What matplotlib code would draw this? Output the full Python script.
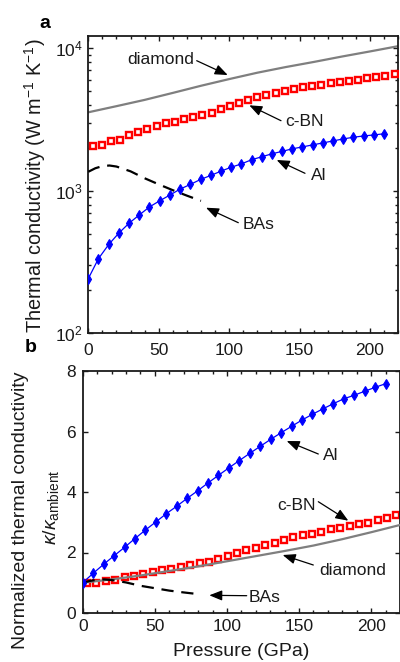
import matplotlib
matplotlib.use("Agg")
import matplotlib.pyplot as plt
from matplotlib.ticker import MultipleLocator, LogLocator, NullFormatter

plt.rcParams['font.family'] = ['Liberation Sans', 'DejaVu Sans']
plt.rcParams['mathtext.fontset'] = 'custom'
plt.rcParams['mathtext.rm'] = 'Liberation Sans'
plt.rcParams['mathtext.it'] = 'Liberation Sans:italic'
plt.rcParams['mathtext.bf'] = 'Liberation Sans:bold'

# ---------------- data ----------------
# diamond (line)
p_diamond = [0, 20, 40, 60, 80, 100, 120, 140, 160, 180, 200, 220]
k_diamond = [3556, 3926, 4345, 4864, 5458, 6080, 6740, 7379, 8017, 8750, 9506, 10350]
n_diamond = [1.00, 1.11, 1.24, 1.39, 1.54, 1.71, 1.88, 2.05, 2.23, 2.44, 2.67, 2.91]

# c-BN (open squares)
p_cbn = [3, 9.5, 16, 22.5, 29, 35.5, 42, 48.5, 55, 61.5, 68, 74.5, 81, 87.5, 94,
         100.5, 107, 113.5, 120, 126.5, 133, 139.5, 146, 152.5, 159, 165.5, 172,
         178.5, 185, 191.5, 198, 204.5, 211, 217.5]
k_cbn = [2060, 2080, 2220, 2290, 2470, 2570, 2720, 2830, 2980, 3050, 3180, 3270,
         3410, 3540, 3730, 3910, 4130, 4360, 4520, 4700, 4850, 4980, 5180, 5310,
         5400, 5550, 5700, 5790, 5890, 6010, 6140, 6280, 6440, 6650]
n_cbn = [0.98, 0.99, 1.06, 1.10, 1.18, 1.23, 1.30, 1.36, 1.43, 1.47, 1.53, 1.58,
         1.64, 1.70, 1.79, 1.88, 1.98, 2.08, 2.16, 2.25, 2.33, 2.41, 2.50, 2.57,
         2.62, 2.69, 2.77, 2.81, 2.87, 2.93, 2.99, 3.06, 3.14, 3.24]

# Al (filled diamonds)
p_al = [0, 7.2, 14.5, 21.7, 29, 36.2, 43.4, 50.7, 57.9, 65.2, 72.4, 79.7, 86.9,
        94.1, 101.4, 108.6, 115.9, 123.1, 130.3, 137.6, 144.8, 152.1, 159.3,
        166.6, 173.8, 181, 188.3, 195.5, 202.8, 210]
k_al = [242, 334, 420, 505, 593, 677, 770, 851, 933, 1028, 1108, 1201, 1281, 1372,
        1463, 1543, 1651, 1732, 1817, 1891, 1970, 2033, 2100, 2168, 2239, 2312,
        2376, 2426, 2466, 2514]
n_al = [1.00, 1.31, 1.61, 1.89, 2.17, 2.46, 2.74, 3.01, 3.28, 3.53, 3.79, 4.04,
        4.30, 4.55, 4.80, 5.04, 5.28, 5.51, 5.74, 5.96, 6.17, 6.38, 6.57, 6.75,
        6.92, 7.08, 7.20, 7.33, 7.46, 7.58]

# BAs (dashed)
p_bas = [0, 5, 10, 15, 20, 30, 40, 50, 60, 70, 80]
k_bas = [1360, 1440, 1490, 1505, 1480, 1370, 1225, 1110, 1010, 925, 850]
n_bas = [1.00, 1.06, 1.10, 1.11, 1.09, 1.01, 0.90, 0.82, 0.74, 0.68, 0.625]

x_ticks = [0, 50, 100, 150, 200]
b_yticks = [0, 2, 4, 6, 8]

# ---------------- figure ----------------
W, H = 400, 662
fig = plt.figure(figsize=(W / 100, H / 100), dpi=100)

def fx(x, y):
    return (x / W, 1 - y / H)

axa = fig.add_axes([88.3 / W, 1 - 333.3 / H, 309.8 / W, 297.3 / H])
axb = fig.add_axes([82.7 / W, 1 - 613 / H, 317.3 / W, 242 / H])

GRAY = '#7f7f7f'
RED = '#ff0000'
BLUE = '#0000ff'
TXT = '#1a1a1a'

def style(ax):
    for s in ax.spines.values():
        s.set_linewidth(1.3)
        s.set_color('#1a1a1a')
    ax.tick_params(which='both', direction='in', top=True, right=True,
                   colors='#1a1a1a', labelcolor=TXT, labelsize=12.5, width=1.0)
    ax.tick_params(which='major', length=3.5)
    ax.tick_params(which='minor', length=2)

# panel a
axa.plot(p_diamond, k_diamond, color=GRAY, lw=1.6, zorder=2)
axa.plot(p_cbn, k_cbn, ls='none', marker='s', ms=4.2, mfc='white', mec=RED,
         mew=1.7, zorder=3)
axa.plot(p_bas, k_bas, color='k', lw=1.6, dashes=(5.5, 3.5), zorder=3)
axa.plot(p_al, k_al, color=BLUE, lw=0.9, marker='d', ms=5.2, mfc=BLUE, mec=BLUE,
         mew=0.8, zorder=4)
axa.set_yscale('log')
axa.set_xlim(0, 220)
axa.set_ylim(100, 12200)
axa.set_xticks(x_ticks)
axa.xaxis.set_minor_locator(MultipleLocator(10))
axa.yaxis.set_major_locator(LogLocator(base=10))
axa.yaxis.set_minor_locator(LogLocator(base=10, subs=range(2, 10)))
axa.yaxis.set_minor_formatter(NullFormatter())
style(axa)
axa.tick_params(axis='x', pad=7)
axa.tick_params(axis='y', pad=4)

# panel b
axb.plot(p_cbn, n_cbn, ls='none', marker='s', ms=4.2, mfc='white', mec=RED,
         mew=1.7, zorder=2)
axb.plot(p_diamond, n_diamond, color=GRAY, lw=1.6, zorder=3)
axb.plot(p_bas, n_bas, color='k', lw=1.6, dashes=(5.5, 3.5), zorder=3)
axb.plot(p_al, n_al, color=BLUE, lw=0.9, marker='d', ms=5.2, mfc=BLUE, mec=BLUE,
         mew=0.8, zorder=4)
axb.set_xlim(0, 220)
axb.set_ylim(0, 8)
axb.set_xticks(x_ticks)
axb.set_yticks(b_yticks)
axb.xaxis.set_minor_locator(MultipleLocator(10))
style(axb)
axb.tick_params(axis='x', pad=4)
axb.tick_params(axis='y', pad=5)

# labels
fig.text(*fx(35, 186), 'Thermal conductivity (W m$^{-1}$ K$^{-1}$)', rotation=90,
         ha='center', va='center', fontsize=14.3, color=TXT)
fig.text(*fx(21, 510), 'Normalized thermal conductivity', rotation=90,
         ha='center', va='center', fontsize=14, color=TXT)
fig.text(*fx(51, 507), r'$\kappa/\kappa_{\rm ambient}$', rotation=90,
         ha='center', va='center', fontsize=14, color=TXT)
fig.text(*fx(241, 651), 'Pressure (GPa)', ha='center', va='center',
         fontsize=14, color=TXT)
fig.text(*fx(45, 23), 'a', ha='center', va='center', fontsize=14,
         fontweight='bold', color='k')
fig.text(*fx(31, 347), 'b', ha='center', va='center', fontsize=14,
         fontweight='bold', color='k')

# annotations: (label, text center, arrow start, arrow tip)
notes = [
    ('diamond', (161, 59), (196.7, 60.7), (227.7, 75)),
    ('c-BN', (304, 121.7), (281, 120.7), (249.3, 105.3)),
    ('Al', (318.8, 175.5), (305, 173.3), (276.7, 160)),
    ('BAs', (259, 224), (238.3, 222.7), (206, 207.7)),
    ('Al', (330.8, 455.8), (318.3, 454), (286.7, 441)),
    ('c-BN', (296.7, 505), (318.3, 501.7), (348.3, 520.7)),
    ('diamond', (352.5, 570.7), (313.3, 565), (282.7, 555)),
    ('BAs', (265, 597), (246.7, 595.7), (209.3, 595.3)),
]
for label, tc, a0, a1 in notes:
    fig.text(*fx(*tc), label, ha='center', va='center', fontsize=12.5, color=TXT)
    fig.add_artist(matplotlib.patches.FancyArrowPatch(
        fx(*a0), fx(*a1), transform=fig.transFigure,
        arrowstyle='-|>,head_length=0.55,head_width=0.22', mutation_scale=14,
        color='k', lw=0.9, shrinkA=0, shrinkB=0))

fig.savefig('out.png', dpi=100)
